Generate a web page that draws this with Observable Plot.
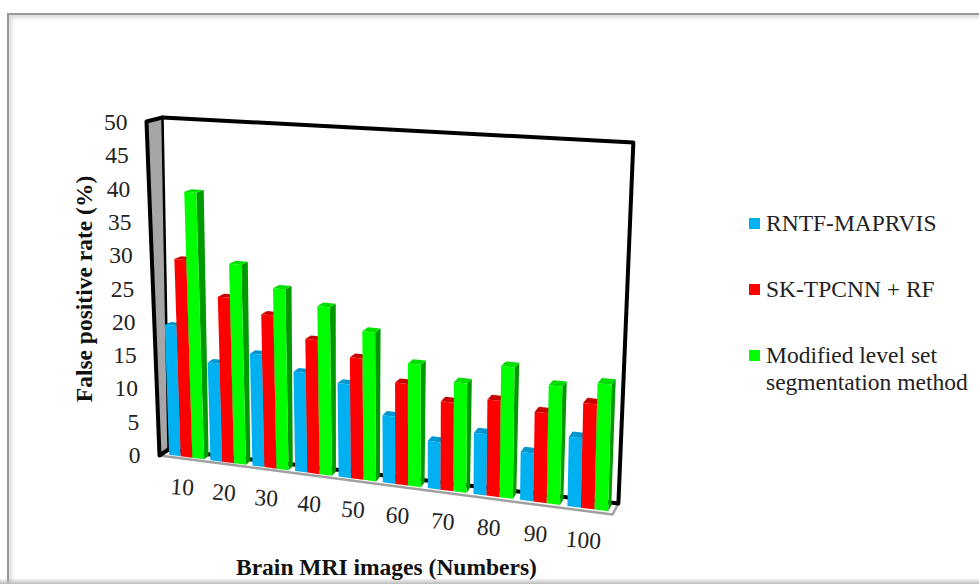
<!DOCTYPE html>
<html>
<head>
<meta charset="utf-8">
<script src="https://cdn.jsdelivr.net/npm/d3@7"></script>
<script src="https://cdn.jsdelivr.net/npm/@observablehq/plot@0.6"></script>
<style>
  html, body { margin: 0; padding: 0; background: #fff; }
  #page { position: relative; width: 979px; height: 584px; overflow: hidden; font-family: "Liberation Serif", serif; color: #222; }
  #frame { position: absolute; left: 7px; top: 13px; width: 990px; height: 600px; border: 2px solid #999; box-shadow: inset 3px 3px 4px rgba(0,0,0,.14); }
  #foot { position: absolute; left: 0; right: 0; top: 578px; height: 6px; background: linear-gradient(rgba(190,190,190,0), #bbb); }
  #chart { position: absolute; left: 0; top: 0; }
  #legend { position: absolute; left: 749px; top: 0; font-size: 23.5px; line-height: 27px; }
  .entry { position: absolute; left: 0; white-space: nowrap; }
  .entry i { position: absolute; left: 0; top: 8px; width: 11px; height: 11px; }
  .entry span { display: block; margin-left: 17px; }
</style>
</head>
<body>
<div id="page">
  <div id="frame"></div>
  <div id="foot"></div>
  <div id="chart"></div>
  <div id="legend"></div>
</div>
<script>
const categories = [10, 20, 30, 40, 50, 60, 70, 80, 90, 100];
const rntf     = [20, 15, 17, 15, 14, 10, 7, 9, 7, 10];
const sktpcnn  = [30, 25, 23, 20, 18, 15, 13, 14, 13, 15];
const levelset = [40, 30, 27, 25, 22, 18, 16, 19, 17, 18];
const yTicks = [0, 5, 10, 15, 20, 25, 30, 35, 40, 45, 50];

const series = [
  {name: "RNTF-MAPRVIS", values: rntf, front: "#00b0f0", top: "#0096cf", side: "#0086b8"},
  {name: "SK-TPCNN + RF", values: sktpcnn, front: "#ff0000", top: "#c80000", side: "#b00000"},
  {name: "Modified level set\nsegmentation method", values: levelset, front: "#00ff00", top: "#00dd00", side: "#009a00"}
];

// Corners of the chart box in axis units (slots across, percent up),
// for the near plane and the far plane of the box.
const near = {bl: [0, 0], br: [10, -8.86], tr: [10.18, 45.65], tl: [-0.287, 50.15]};
const far  = {bl: [0.199, 0.9], br: [10.13, -7.21], tr: [10.46, 47.0], tl: [0.066, 50.75]};

// Homography taking the unit square onto a four-cornered plane.
function planeMap({bl, br, tr, tl}) {
  const dx1 = br[0] - tr[0], dx2 = tl[0] - tr[0], sx = bl[0] - br[0] + tr[0] - tl[0];
  const dy1 = br[1] - tr[1], dy2 = tl[1] - tr[1], sy = bl[1] - br[1] + tr[1] - tl[1];
  const det = dx1 * dy2 - dx2 * dy1;
  const g = (sx * dy2 - dx2 * sy) / det;
  const h = (dx1 * sy - sx * dy1) / det;
  const a = br[0] - bl[0] + g * br[0], b = tl[0] - bl[0] + h * tl[0], c = bl[0];
  const d = br[1] - bl[1] + g * br[1], e = tl[1] - bl[1] + h * tl[1], f = bl[1];
  return (s, t) => {
    const w = g * s + h * t + 1;
    return [(a * s + b * t + c) / w, (d * s + e * t + f) / w];
  };
}
const nearMap = planeMap(near), farMap = planeMap(far);

// slot: 0..10 across, value: 0..50 up, depth: 0 near .. 1 far.
function project(slot, value, depth) {
  const p = nearMap(slot / 10, value / 50), q = farMap(slot / 10, value / 50);
  return [p[0] + (q[0] - p[0]) * depth, p[1] + (q[1] - p[1]) * depth];
}

const barStart = 0.2, barWidth = 0.278, slotStep = 0.985, depthNear = 0.2, depthFar = 0.72;

// Each face is two two-ended edges, the shape an area mark wants.
function face(id, fill, a, b, c, d) {
  return [
    {id, fill, x1: a[0], y1: a[1], x2: d[0], y2: d[1]},
    {id, fill, x1: b[0], y1: b[1], x2: c[0], y2: c[1]}
  ];
}

const faces = [];
categories.forEach((category, i) => {
  series.forEach((s, j) => {
    const l = i * slotStep + barStart + j * barWidth, r = l + barWidth, v = s.values[i];
    const key = `${category}-${j}`;
    faces.push(...face(`${key}-side`, s.side,
      project(r, 0, depthNear), project(r, 0, depthFar), project(r, v, depthFar), project(r, v, depthNear)));
    faces.push(...face(`${key}-top`, s.top,
      project(l, v, depthNear), project(r, v, depthNear), project(r, v, depthFar), project(l, v, depthFar)));
    faces.push(...face(`${key}-front`, s.front,
      project(l, 0, depthNear), project(r, 0, depthNear), project(r, v, depthNear), project(l, v, depthNear)));
  });
});

const areaOpts = {x1: "x1", y1: "y1", x2: "x2", y2: "y2", z: "id", fill: "fill"};
const pts = (...list) => list.map(([x, y]) => ({x, y}));

const box = [
  ...face("side-wall", "#a6a6a6", near.bl, far.bl, far.tl, near.tl),
  ...face("floor", "#ffffff", near.bl, near.br, far.br, far.bl)
];

const chart = Plot.plot({
  width: 979,
  height: 584,
  margin: 0,
  style: {background: "transparent", fontFamily: "'Liberation Serif', serif"},
  x: {domain: [0, 10], range: [159, 612], axis: null},
  y: {domain: [0, 50], range: [455, 122], axis: null},
  color: {type: "identity"},
  marks: [
    Plot.area(box, areaOpts),
    // floor edge, lit grey along the front and right side
    Plot.line(pts(near.bl, near.br, far.br), {x: "x", y: "y", stroke: "#a0a0a0", strokeWidth: 2.5}),
    // box outline in heavy black
    Plot.line(pts(far.bl, far.br, far.tr, far.tl), {x: "x", y: "y", stroke: "#000", strokeWidth: 4}),
    Plot.line(pts(far.tl, far.bl), {x: "x", y: "y", stroke: "#000", strokeWidth: 2.5}),
    Plot.line(pts(far.tl, near.tl, near.bl, far.bl), {x: "x", y: "y", stroke: "#000", strokeWidth: 4}),
    Plot.area(faces, areaOpts),
    Plot.text(yTicks, {
      x: (v) => project(0, v, 0)[0],
      y: (v) => v,
      text: (v) => `${v}`,
      textAnchor: "end",
      dx: -19,
      fontSize: 23.5,
      fill: "#222"
    }),
    Plot.text(categories, {
      x: (c, i) => project(i * slotStep + 0.5, 0, 0)[0],
      y: (c, i) => project(i + 0.5, 0, 0)[1],
      text: (c) => `${c}`,
      dy: 29,
      dx: 2,
      rotate: 4,
      fontSize: 23.5,
      fill: "#222"
    }),
    Plot.text(["False positive rate (%)"], {
      x: [-1.656],
      y: [25],
      text: (d) => d,
      rotate: -90,
      fontSize: 23.5,
      fontWeight: "bold",
      fill: "#111"
    }),
    Plot.text(["Brain MRI images (Numbers)"], {
      x: [5.01],
      y: [-16.8],
      text: (d) => d,
      fontSize: 23.5,
      fontWeight: "bold",
      fill: "#111"
    })
  ]
});
document.getElementById("chart").appendChild(chart);

// Legend entries beside the chart.
const legend = document.getElementById("legend");
const legendTops = [210, 276, 342];
series.forEach((s, i) => {
  const row = document.createElement("div");
  row.className = "entry";
  row.style.top = legendTops[i] + "px";
  const swatch = document.createElement("i");
  swatch.style.background = s.front;
  const label = document.createElement("span");
  label.innerHTML = s.name.split("\n").join("<br>");
  row.append(swatch, label);
  legend.append(row);
});
</script>
</body>
</html>
